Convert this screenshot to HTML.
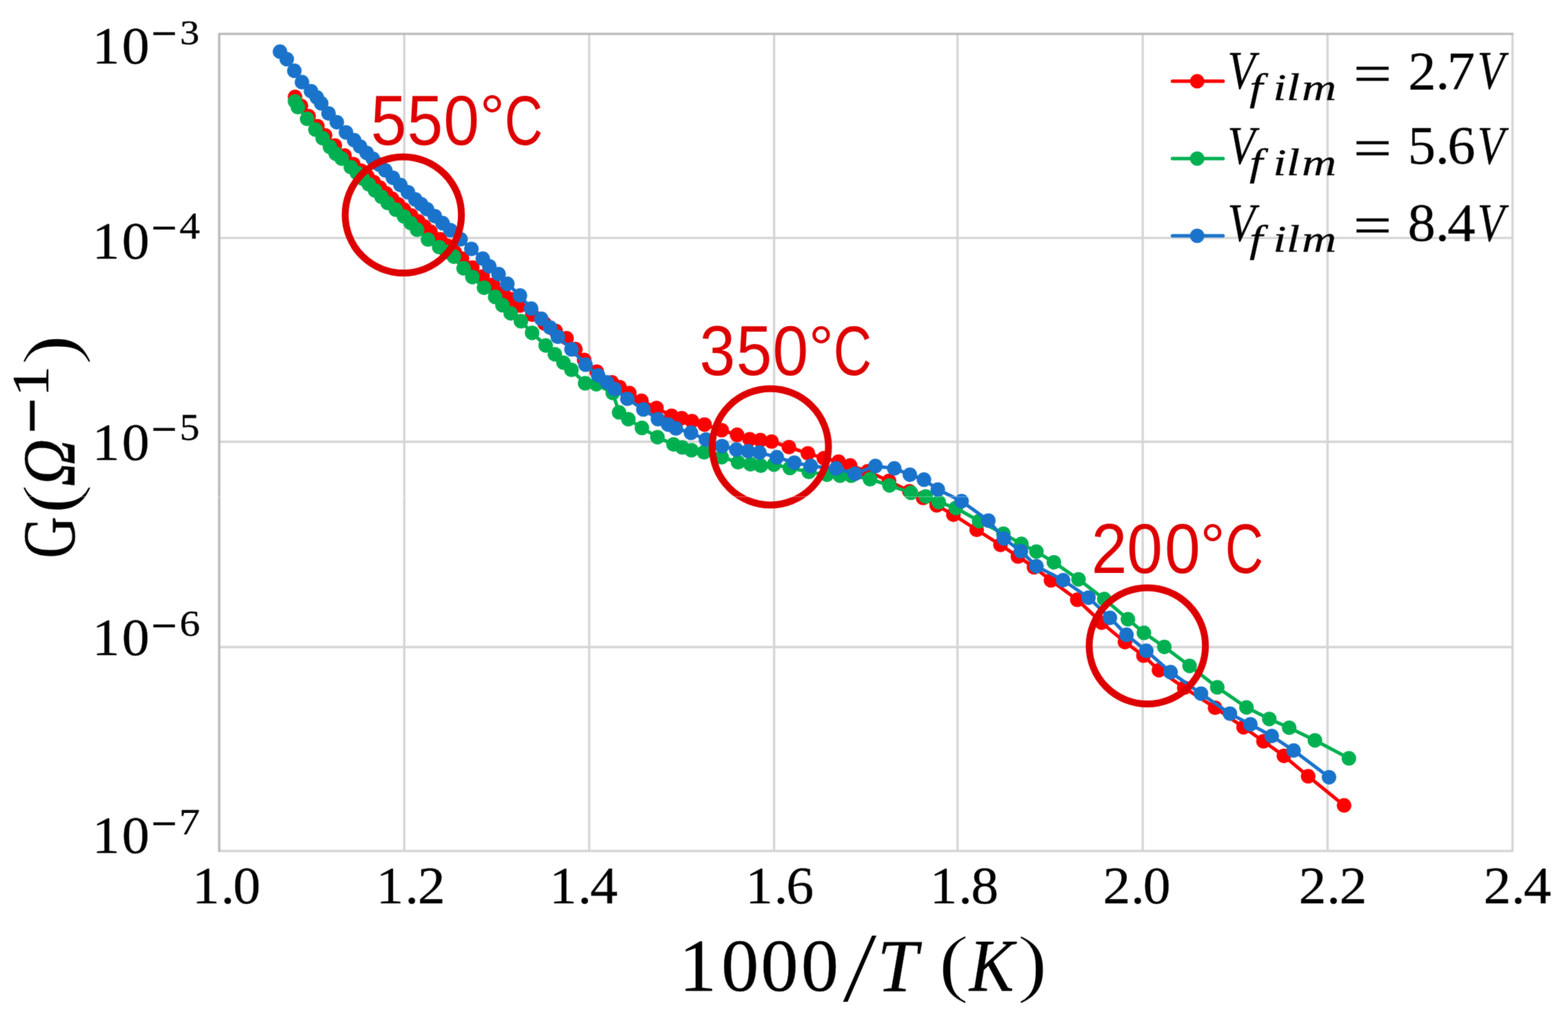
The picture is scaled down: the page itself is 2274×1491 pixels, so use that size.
<!DOCTYPE html>
<html lang="en"><head><meta charset="utf-8"><title>G vs 1000/T</title>
<style>html,body{margin:0;padding:0;background:#fff;}body{width:2274px;height:1491px;overflow:hidden;}svg{display:block;filter:url(#soft);}text{white-space:pre;font-kerning:none;font-variant-ligatures:none;font-size:40px;}.s,.i{stroke:#000;stroke-width:0.3px;vector-effect:non-scaling-stroke;}.p{font-family:'Liberation Serif','DejaVu Serif',serif;stroke:#fff;stroke-width:1.8px;vector-effect:non-scaling-stroke;}.s{font-family:'Liberation Serif','DejaVu Serif',serif;}.i{font-family:'Liberation Serif','DejaVu Serif',serif;font-style:italic;}.a{font-family:'Liberation Sans','DejaVu Sans',sans-serif;fill:#de0000;}</style>
</head><body>
<svg width="2274" height="1491" viewBox="0 0 2274 1491">
<defs><filter id="soft" x="0" y="0" width="2274" height="1491" filterUnits="userSpaceOnUse" color-interpolation-filters="sRGB"><feConvolveMatrix order="3" kernelMatrix="0.0192 0.1001 0.0192 0.1001 0.5228 0.1001 0.0192 0.1001 0.0192" edgeMode="duplicate" preserveAlpha="true"/></filter></defs>
<rect x="0" y="0" width="2274" height="1491" fill="#ffffff"/>
<g stroke="#d6d6d6" stroke-width="3.4" fill="none" stroke-linecap="round">
<line x1="586.30" y1="49.10" x2="586.30" y2="1234.20"/>
<line x1="854.50" y1="49.10" x2="854.50" y2="1234.20"/>
<line x1="1122.70" y1="49.10" x2="1122.70" y2="1234.20"/>
<line x1="1388.70" y1="49.10" x2="1388.70" y2="1234.20"/>
<line x1="1657.20" y1="49.10" x2="1657.20" y2="1234.20"/>
<line x1="1925.30" y1="49.10" x2="1925.30" y2="1234.20"/>
<line x1="2193.50" y1="49.10" x2="2193.50" y2="1234.20"/>
<line x1="317.90" y1="345.10" x2="2193.50" y2="345.10"/>
<line x1="317.90" y1="640.75" x2="2193.50" y2="640.75"/>
<line x1="317.90" y1="938.45" x2="2193.50" y2="938.45"/>
<line x1="317.90" y1="1234.20" x2="2193.50" y2="1234.20"/>
</g>
<polyline fill="none" stroke="#bababa" stroke-width="3.4" stroke-linejoin="round" stroke-linecap="round" points="317.90,1234.20 317.90,49.10 2193.50,49.10"/>
<g>
<polyline fill="none" stroke="#ff0000" stroke-width="5.0" stroke-linejoin="round" stroke-linecap="round" points="427.9,140.7 436.5,153.5 447.6,168.6 460.3,183.0 471.5,196.3 485.6,211.1 499.7,225.5 512.4,238.0 523.7,247.5 532.8,255.8 541.9,264.0 550.9,272.2 560.0,280.5 568.7,288.4 577.3,296.3 586.0,304.2 596.4,312.6 606.7,321.0 615.5,328.6 624.4,336.2 638.5,347.2 649.0,356.5 659.5,365.7 670.0,375.0 685.0,388.0 700.0,401.0 715.0,413.0 730.0,425.0 742.0,434.1 754.1,443.2 772.0,456.4 790.0,469.5 805.9,480.1 821.7,490.6 834.5,506.4 847.2,522.1 865.5,539.0 887.3,554.5 898.6,561.5 912.7,570.0 930.3,581.3 952.1,591.8 973.9,603.1 988.7,606.6 1003.5,610.8 1021.8,615.8 1046.7,624.0 1069.0,630.7 1087.2,637.0 1102.7,638.4 1119.0,640.5 1144.2,648.5 1171.7,657.6 1194.9,664.6 1216.1,669.6 1233.0,675.2 1258.3,683.7 1289.3,697.7 1318.9,712.5 1338.8,722.2 1358.5,733.0 1382.7,746.6 1416.5,768.5 1451.0,790.3 1476.3,807.2 1499.6,822.7 1524.2,841.7 1562.4,869.9 1597.7,903.1 1631.5,931.3 1658.3,951.0 1680.8,972.1 1717.5,997.5 1762.2,1026.5 1803.5,1054.8 1832.4,1075.2 1862.0,1096.3 1897.2,1125.9 1949.3,1168.2"/>
<g fill="#ff0000"><circle cx="427.9" cy="140.7" r="10.6"/><circle cx="436.5" cy="153.5" r="10.6"/><circle cx="447.6" cy="168.6" r="10.6"/><circle cx="460.3" cy="183.0" r="10.6"/><circle cx="471.5" cy="196.3" r="10.6"/><circle cx="485.6" cy="211.1" r="10.6"/><circle cx="499.7" cy="225.5" r="10.6"/><circle cx="512.4" cy="238.0" r="10.6"/><circle cx="523.7" cy="247.5" r="10.6"/><circle cx="532.8" cy="255.8" r="10.6"/><circle cx="541.9" cy="264.0" r="10.6"/><circle cx="550.9" cy="272.2" r="10.6"/><circle cx="560.0" cy="280.5" r="10.6"/><circle cx="568.7" cy="288.4" r="10.6"/><circle cx="577.3" cy="296.3" r="10.6"/><circle cx="586.0" cy="304.2" r="10.6"/><circle cx="596.4" cy="312.6" r="10.6"/><circle cx="606.7" cy="321.0" r="10.6"/><circle cx="615.5" cy="328.6" r="10.6"/><circle cx="624.4" cy="336.2" r="10.6"/><circle cx="638.5" cy="347.2" r="10.6"/><circle cx="649.0" cy="356.5" r="10.6"/><circle cx="659.5" cy="365.7" r="10.6"/><circle cx="670.0" cy="375.0" r="10.6"/><circle cx="685.0" cy="388.0" r="10.6"/><circle cx="700.0" cy="401.0" r="10.6"/><circle cx="715.0" cy="413.0" r="10.6"/><circle cx="730.0" cy="425.0" r="10.6"/><circle cx="742.0" cy="434.1" r="10.6"/><circle cx="754.1" cy="443.2" r="10.6"/><circle cx="772.0" cy="456.4" r="10.6"/><circle cx="790.0" cy="469.5" r="10.6"/><circle cx="805.9" cy="480.1" r="10.6"/><circle cx="821.7" cy="490.6" r="10.6"/><circle cx="834.5" cy="506.4" r="10.6"/><circle cx="847.2" cy="522.1" r="10.6"/><circle cx="865.5" cy="539.0" r="10.6"/><circle cx="887.3" cy="554.5" r="10.6"/><circle cx="898.6" cy="561.5" r="10.6"/><circle cx="912.7" cy="570.0" r="10.6"/><circle cx="930.3" cy="581.3" r="10.6"/><circle cx="952.1" cy="591.8" r="10.6"/><circle cx="973.9" cy="603.1" r="10.6"/><circle cx="988.7" cy="606.6" r="10.6"/><circle cx="1003.5" cy="610.8" r="10.6"/><circle cx="1021.8" cy="615.8" r="10.6"/><circle cx="1046.7" cy="624.0" r="10.6"/><circle cx="1069.0" cy="630.7" r="10.6"/><circle cx="1087.2" cy="637.0" r="10.6"/><circle cx="1102.7" cy="638.4" r="10.6"/><circle cx="1119.0" cy="640.5" r="10.6"/><circle cx="1144.2" cy="648.5" r="10.6"/><circle cx="1171.7" cy="657.6" r="10.6"/><circle cx="1194.9" cy="664.6" r="10.6"/><circle cx="1216.1" cy="669.6" r="10.6"/><circle cx="1233.0" cy="675.2" r="10.6"/><circle cx="1258.3" cy="683.7" r="10.6"/><circle cx="1289.3" cy="697.7" r="10.6"/><circle cx="1318.9" cy="712.5" r="10.6"/><circle cx="1338.8" cy="722.2" r="10.6"/><circle cx="1358.5" cy="733.0" r="10.6"/><circle cx="1382.7" cy="746.6" r="10.6"/><circle cx="1416.5" cy="768.5" r="10.6"/><circle cx="1451.0" cy="790.3" r="10.6"/><circle cx="1476.3" cy="807.2" r="10.6"/><circle cx="1499.6" cy="822.7" r="10.6"/><circle cx="1524.2" cy="841.7" r="10.6"/><circle cx="1562.4" cy="869.9" r="10.6"/><circle cx="1597.7" cy="903.1" r="10.6"/><circle cx="1631.5" cy="931.3" r="10.6"/><circle cx="1658.3" cy="951.0" r="10.6"/><circle cx="1680.8" cy="972.1" r="10.6"/><circle cx="1717.5" cy="997.5" r="10.6"/><circle cx="1762.2" cy="1026.5" r="10.6"/><circle cx="1803.5" cy="1054.8" r="10.6"/><circle cx="1832.4" cy="1075.2" r="10.6"/><circle cx="1862.0" cy="1096.3" r="10.6"/><circle cx="1897.2" cy="1125.9" r="10.6"/><circle cx="1949.3" cy="1168.2" r="10.6"/></g>
</g>
<g>
<polyline fill="none" stroke="#00b050" stroke-width="5.0" stroke-linejoin="round" stroke-linecap="round" points="427.9,147.0 432.1,155.5 445.5,172.4 457.5,187.9 468.0,200.6 478.6,213.2 487.0,223.1 495.5,230.1 508.9,242.5 517.6,250.8 526.3,259.2 535.0,267.5 544.1,276.5 553.3,285.5 562.4,294.5 574.2,304.2 586.0,314.0 595.5,323.6 604.9,333.2 620.8,347.5 637.0,358.5 647.6,365.4 658.3,372.3 672.4,389.2 685.1,401.8 702.0,417.3 718.2,430.7 728.7,442.7 740.7,454.6 755.5,465.9 771.7,482.8 791.4,501.1 804.7,513.8 817.2,526.0 828.8,536.5 848.6,555.9 864.8,557.3 888.7,570.0 897.9,598.2 911.3,608.0 931.0,620.7 953.5,634.1 976.8,644.6 989.4,648.9 1002.8,653.1 1021.1,655.9 1046.7,663.1 1070.4,670.5 1088.3,673.3 1103.4,675.4 1122.4,673.8 1145.6,678.7 1173.1,684.4 1199.2,688.6 1218.2,690.0 1234.4,690.0 1261.8,694.9 1290.0,704.1 1321.2,714.7 1342.6,720.1 1361.5,728.3 1386.2,736.8 1420.0,755.8 1455.2,774.1 1481.3,788.9 1503.1,800.1 1528.5,815.6 1564.2,840.3 1601.5,868.9 1635.8,898.2 1659.0,917.9 1688.6,938.3 1725.2,965.8 1765.4,996.9 1807.7,1026.1 1840.8,1042.8 1869.7,1055.5 1907.0,1073.8 1956.3,1099.9"/>
<g fill="#00b050"><circle cx="427.9" cy="147.0" r="10.6"/><circle cx="432.1" cy="155.5" r="10.6"/><circle cx="445.5" cy="172.4" r="10.6"/><circle cx="457.5" cy="187.9" r="10.6"/><circle cx="468.0" cy="200.6" r="10.6"/><circle cx="478.6" cy="213.2" r="10.6"/><circle cx="487.0" cy="223.1" r="10.6"/><circle cx="495.5" cy="230.1" r="10.6"/><circle cx="508.9" cy="242.5" r="10.6"/><circle cx="517.6" cy="250.8" r="10.6"/><circle cx="526.3" cy="259.2" r="10.6"/><circle cx="535.0" cy="267.5" r="10.6"/><circle cx="544.1" cy="276.5" r="10.6"/><circle cx="553.3" cy="285.5" r="10.6"/><circle cx="562.4" cy="294.5" r="10.6"/><circle cx="574.2" cy="304.2" r="10.6"/><circle cx="586.0" cy="314.0" r="10.6"/><circle cx="595.5" cy="323.6" r="10.6"/><circle cx="604.9" cy="333.2" r="10.6"/><circle cx="620.8" cy="347.5" r="10.6"/><circle cx="637.0" cy="358.5" r="10.6"/><circle cx="647.6" cy="365.4" r="10.6"/><circle cx="658.3" cy="372.3" r="10.6"/><circle cx="672.4" cy="389.2" r="10.6"/><circle cx="685.1" cy="401.8" r="10.6"/><circle cx="702.0" cy="417.3" r="10.6"/><circle cx="718.2" cy="430.7" r="10.6"/><circle cx="728.7" cy="442.7" r="10.6"/><circle cx="740.7" cy="454.6" r="10.6"/><circle cx="755.5" cy="465.9" r="10.6"/><circle cx="771.7" cy="482.8" r="10.6"/><circle cx="791.4" cy="501.1" r="10.6"/><circle cx="804.7" cy="513.8" r="10.6"/><circle cx="817.2" cy="526.0" r="10.6"/><circle cx="828.8" cy="536.5" r="10.6"/><circle cx="848.6" cy="555.9" r="10.6"/><circle cx="864.8" cy="557.3" r="10.6"/><circle cx="888.7" cy="570.0" r="10.6"/><circle cx="897.9" cy="598.2" r="10.6"/><circle cx="911.3" cy="608.0" r="10.6"/><circle cx="931.0" cy="620.7" r="10.6"/><circle cx="953.5" cy="634.1" r="10.6"/><circle cx="976.8" cy="644.6" r="10.6"/><circle cx="989.4" cy="648.9" r="10.6"/><circle cx="1002.8" cy="653.1" r="10.6"/><circle cx="1021.1" cy="655.9" r="10.6"/><circle cx="1046.7" cy="663.1" r="10.6"/><circle cx="1070.4" cy="670.5" r="10.6"/><circle cx="1088.3" cy="673.3" r="10.6"/><circle cx="1103.4" cy="675.4" r="10.6"/><circle cx="1122.4" cy="673.8" r="10.6"/><circle cx="1145.6" cy="678.7" r="10.6"/><circle cx="1173.1" cy="684.4" r="10.6"/><circle cx="1199.2" cy="688.6" r="10.6"/><circle cx="1218.2" cy="690.0" r="10.6"/><circle cx="1234.4" cy="690.0" r="10.6"/><circle cx="1261.8" cy="694.9" r="10.6"/><circle cx="1290.0" cy="704.1" r="10.6"/><circle cx="1321.2" cy="714.7" r="10.6"/><circle cx="1342.6" cy="720.1" r="10.6"/><circle cx="1361.5" cy="728.3" r="10.6"/><circle cx="1386.2" cy="736.8" r="10.6"/><circle cx="1420.0" cy="755.8" r="10.6"/><circle cx="1455.2" cy="774.1" r="10.6"/><circle cx="1481.3" cy="788.9" r="10.6"/><circle cx="1503.1" cy="800.1" r="10.6"/><circle cx="1528.5" cy="815.6" r="10.6"/><circle cx="1564.2" cy="840.3" r="10.6"/><circle cx="1601.5" cy="868.9" r="10.6"/><circle cx="1635.8" cy="898.2" r="10.6"/><circle cx="1659.0" cy="917.9" r="10.6"/><circle cx="1688.6" cy="938.3" r="10.6"/><circle cx="1725.2" cy="965.8" r="10.6"/><circle cx="1765.4" cy="996.9" r="10.6"/><circle cx="1807.7" cy="1026.1" r="10.6"/><circle cx="1840.8" cy="1042.8" r="10.6"/><circle cx="1869.7" cy="1055.5" r="10.6"/><circle cx="1907.0" cy="1073.8" r="10.6"/><circle cx="1956.3" cy="1099.9" r="10.6"/></g>
</g>
<g>
<polyline fill="none" stroke="#1a73cb" stroke-width="5.0" stroke-linejoin="round" stroke-linecap="round" points="406.1,74.9 415.9,85.8 426.9,102.7 438.0,119.2 451.1,132.3 459.6,141.4 465.9,149.9 476.5,164.6 488.5,177.3 501.8,192.1 513.8,203.4 522.3,212.5 531.8,221.8 540.8,230.3 549.9,238.7 558.9,247.2 569.8,257.8 580.7,268.3 591.6,278.8 602.5,289.4 611.0,296.4 619.4,303.5 630.7,313.6 641.9,323.7 653.2,333.8 668.0,347.0 683.7,361.0 700.2,375.2 709.7,386.3 723.1,397.6 735.8,411.7 754.1,428.6 770.3,447.6 785.1,462.4 797.7,475.1 809.0,488.5 828.8,506.7 849.2,528.9 867.6,544.6 880.3,554.5 891.5,564.4 909.9,578.5 933.1,593.9 954.2,608.0 969.0,615.8 980.3,621.4 1002.1,627.7 1023.9,637.6 1047.2,647.0 1067.9,652.2 1084.8,654.3 1101.4,656.4 1126.6,663.2 1152.0,671.0 1175.9,675.9 1212.5,679.4 1240.0,687.2 1269.6,675.9 1297.0,679.4 1319.6,688.6 1340.0,695.7 1360.1,710.0 1394.6,726.9 1433.4,755.1 1455.9,781.1 1480.6,799.4 1503.1,821.3 1541.8,841.5 1578.6,866.8 1609.7,896.1 1633.7,920.7 1662.5,943.9 1697.7,974.9 1741.8,1006.0 1783.8,1035.1 1813.4,1050.6 1844.4,1067.5 1876.1,1088.6 1927.5,1127.3"/>
<g fill="#1a73cb"><circle cx="406.1" cy="74.9" r="10.6"/><circle cx="415.9" cy="85.8" r="10.6"/><circle cx="426.9" cy="102.7" r="10.6"/><circle cx="438.0" cy="119.2" r="10.6"/><circle cx="451.1" cy="132.3" r="10.6"/><circle cx="459.6" cy="141.4" r="10.6"/><circle cx="465.9" cy="149.9" r="10.6"/><circle cx="476.5" cy="164.6" r="10.6"/><circle cx="488.5" cy="177.3" r="10.6"/><circle cx="501.8" cy="192.1" r="10.6"/><circle cx="513.8" cy="203.4" r="10.6"/><circle cx="522.3" cy="212.5" r="10.6"/><circle cx="531.8" cy="221.8" r="10.6"/><circle cx="540.8" cy="230.3" r="10.6"/><circle cx="549.9" cy="238.7" r="10.6"/><circle cx="558.9" cy="247.2" r="10.6"/><circle cx="569.8" cy="257.8" r="10.6"/><circle cx="580.7" cy="268.3" r="10.6"/><circle cx="591.6" cy="278.8" r="10.6"/><circle cx="602.5" cy="289.4" r="10.6"/><circle cx="611.0" cy="296.4" r="10.6"/><circle cx="619.4" cy="303.5" r="10.6"/><circle cx="630.7" cy="313.6" r="10.6"/><circle cx="641.9" cy="323.7" r="10.6"/><circle cx="653.2" cy="333.8" r="10.6"/><circle cx="668.0" cy="347.0" r="10.6"/><circle cx="683.7" cy="361.0" r="10.6"/><circle cx="700.2" cy="375.2" r="10.6"/><circle cx="709.7" cy="386.3" r="10.6"/><circle cx="723.1" cy="397.6" r="10.6"/><circle cx="735.8" cy="411.7" r="10.6"/><circle cx="754.1" cy="428.6" r="10.6"/><circle cx="770.3" cy="447.6" r="10.6"/><circle cx="785.1" cy="462.4" r="10.6"/><circle cx="797.7" cy="475.1" r="10.6"/><circle cx="809.0" cy="488.5" r="10.6"/><circle cx="828.8" cy="506.7" r="10.6"/><circle cx="849.2" cy="528.9" r="10.6"/><circle cx="867.6" cy="544.6" r="10.6"/><circle cx="880.3" cy="554.5" r="10.6"/><circle cx="891.5" cy="564.4" r="10.6"/><circle cx="909.9" cy="578.5" r="10.6"/><circle cx="933.1" cy="593.9" r="10.6"/><circle cx="954.2" cy="608.0" r="10.6"/><circle cx="969.0" cy="615.8" r="10.6"/><circle cx="980.3" cy="621.4" r="10.6"/><circle cx="1002.1" cy="627.7" r="10.6"/><circle cx="1023.9" cy="637.6" r="10.6"/><circle cx="1047.2" cy="647.0" r="10.6"/><circle cx="1067.9" cy="652.2" r="10.6"/><circle cx="1084.8" cy="654.3" r="10.6"/><circle cx="1101.4" cy="656.4" r="10.6"/><circle cx="1126.6" cy="663.2" r="10.6"/><circle cx="1152.0" cy="671.0" r="10.6"/><circle cx="1175.9" cy="675.9" r="10.6"/><circle cx="1212.5" cy="679.4" r="10.6"/><circle cx="1240.0" cy="687.2" r="10.6"/><circle cx="1269.6" cy="675.9" r="10.6"/><circle cx="1297.0" cy="679.4" r="10.6"/><circle cx="1319.6" cy="688.6" r="10.6"/><circle cx="1340.0" cy="695.7" r="10.6"/><circle cx="1360.1" cy="710.0" r="10.6"/><circle cx="1394.6" cy="726.9" r="10.6"/><circle cx="1433.4" cy="755.1" r="10.6"/><circle cx="1455.9" cy="781.1" r="10.6"/><circle cx="1480.6" cy="799.4" r="10.6"/><circle cx="1503.1" cy="821.3" r="10.6"/><circle cx="1541.8" cy="841.5" r="10.6"/><circle cx="1578.6" cy="866.8" r="10.6"/><circle cx="1609.7" cy="896.1" r="10.6"/><circle cx="1633.7" cy="920.7" r="10.6"/><circle cx="1662.5" cy="943.9" r="10.6"/><circle cx="1697.7" cy="974.9" r="10.6"/><circle cx="1741.8" cy="1006.0" r="10.6"/><circle cx="1783.8" cy="1035.1" r="10.6"/><circle cx="1813.4" cy="1050.6" r="10.6"/><circle cx="1844.4" cy="1067.5" r="10.6"/><circle cx="1876.1" cy="1088.6" r="10.6"/><circle cx="1927.5" cy="1127.3" r="10.6"/></g>
</g>
<text><tspan class="s" x="133.69" y="91.63" font-size="77.04" textLength="40.06" lengthAdjust="spacingAndGlyphs">1</tspan><tspan class="s" x="176.85" y="91.63" font-size="77.04" textLength="40.06" lengthAdjust="spacingAndGlyphs">0</tspan><tspan class="s" x="219.27" y="74.37" font-size="76.00" textLength="37.60" lengthAdjust="spacingAndGlyphs">−</tspan><tspan class="s" x="261.12" y="63.68" font-size="51.60" textLength="28.24" lengthAdjust="spacingAndGlyphs">3</tspan></text>
<text><tspan class="s" x="133.69" y="374.63" font-size="77.04" textLength="40.06" lengthAdjust="spacingAndGlyphs">1</tspan><tspan class="s" x="176.85" y="374.63" font-size="77.04" textLength="40.06" lengthAdjust="spacingAndGlyphs">0</tspan><tspan class="s" x="219.27" y="356.27" font-size="76.00" textLength="37.60" lengthAdjust="spacingAndGlyphs">−</tspan><tspan class="s" x="260.21" y="346.10" font-size="54.14" textLength="29.78" lengthAdjust="spacingAndGlyphs">4</tspan></text>
<text><tspan class="s" x="133.69" y="666.63" font-size="77.04" textLength="40.06" lengthAdjust="spacingAndGlyphs">1</tspan><tspan class="s" x="176.85" y="666.63" font-size="77.04" textLength="40.06" lengthAdjust="spacingAndGlyphs">0</tspan><tspan class="s" x="219.27" y="648.27" font-size="76.00" textLength="37.60" lengthAdjust="spacingAndGlyphs">−</tspan><tspan class="s" x="260.47" y="637.55" font-size="55.04" textLength="28.94" lengthAdjust="spacingAndGlyphs">5</tspan></text>
<text><tspan class="s" x="133.69" y="950.43" font-size="77.04" textLength="40.06" lengthAdjust="spacingAndGlyphs">1</tspan><tspan class="s" x="176.85" y="950.43" font-size="77.04" textLength="40.06" lengthAdjust="spacingAndGlyphs">0</tspan><tspan class="s" x="219.27" y="933.07" font-size="76.00" textLength="37.60" lengthAdjust="spacingAndGlyphs">−</tspan><tspan class="s" x="260.48" y="921.98" font-size="52.04" textLength="29.59" lengthAdjust="spacingAndGlyphs">6</tspan></text>
<text><tspan class="s" x="133.69" y="1237.43" font-size="77.04" textLength="40.06" lengthAdjust="spacingAndGlyphs">1</tspan><tspan class="s" x="176.85" y="1237.43" font-size="77.04" textLength="40.06" lengthAdjust="spacingAndGlyphs">0</tspan><tspan class="s" x="219.27" y="1220.37" font-size="76.00" textLength="37.60" lengthAdjust="spacingAndGlyphs">−</tspan><tspan class="s" x="259.87" y="1210.30" font-size="53.13" textLength="30.25" lengthAdjust="spacingAndGlyphs">7</tspan></text>
<text><tspan class="s" x="278.71" y="1309.68" font-size="76.81" textLength="39.94" lengthAdjust="spacingAndGlyphs">1</tspan><tspan class="s" x="320.21" y="1309.68" font-size="76.81" textLength="19.97" lengthAdjust="spacingAndGlyphs">.</tspan><tspan class="s" x="337.95" y="1309.68" font-size="76.81" textLength="39.94" lengthAdjust="spacingAndGlyphs">0</tspan></text>
<text><tspan class="s" x="545.61" y="1309.68" font-size="76.81" textLength="39.94" lengthAdjust="spacingAndGlyphs">1</tspan><tspan class="s" x="587.31" y="1309.68" font-size="76.81" textLength="19.97" lengthAdjust="spacingAndGlyphs">.</tspan><tspan class="s" x="605.75" y="1309.68" font-size="76.81" textLength="39.94" lengthAdjust="spacingAndGlyphs">2</tspan></text>
<text><tspan class="s" x="796.71" y="1309.68" font-size="76.81" textLength="39.94" lengthAdjust="spacingAndGlyphs">1</tspan><tspan class="s" x="838.11" y="1309.68" font-size="76.81" textLength="19.97" lengthAdjust="spacingAndGlyphs">.</tspan><tspan class="s" x="856.05" y="1309.68" font-size="76.81" textLength="39.94" lengthAdjust="spacingAndGlyphs">4</tspan></text>
<text><tspan class="s" x="1080.91" y="1309.68" font-size="76.81" textLength="39.94" lengthAdjust="spacingAndGlyphs">1</tspan><tspan class="s" x="1122.41" y="1309.68" font-size="76.81" textLength="19.97" lengthAdjust="spacingAndGlyphs">.</tspan><tspan class="s" x="1140.35" y="1309.68" font-size="76.81" textLength="39.94" lengthAdjust="spacingAndGlyphs">6</tspan></text>
<text><tspan class="s" x="1348.51" y="1309.68" font-size="76.81" textLength="39.94" lengthAdjust="spacingAndGlyphs">1</tspan><tspan class="s" x="1390.01" y="1309.68" font-size="76.81" textLength="19.97" lengthAdjust="spacingAndGlyphs">.</tspan><tspan class="s" x="1408.35" y="1309.68" font-size="76.81" textLength="39.94" lengthAdjust="spacingAndGlyphs">8</tspan></text>
<text><tspan class="s" x="1599.61" y="1309.68" font-size="76.81" textLength="39.94" lengthAdjust="spacingAndGlyphs">2</tspan><tspan class="s" x="1639.91" y="1309.68" font-size="76.81" textLength="19.97" lengthAdjust="spacingAndGlyphs">.</tspan><tspan class="s" x="1657.65" y="1309.68" font-size="76.81" textLength="39.94" lengthAdjust="spacingAndGlyphs">0</tspan></text>
<text><tspan class="s" x="1883.41" y="1309.68" font-size="76.81" textLength="39.94" lengthAdjust="spacingAndGlyphs">2</tspan><tspan class="s" x="1924.11" y="1309.68" font-size="76.81" textLength="19.97" lengthAdjust="spacingAndGlyphs">.</tspan><tspan class="s" x="1942.45" y="1309.68" font-size="76.81" textLength="39.94" lengthAdjust="spacingAndGlyphs">2</tspan></text>
<text><tspan class="s" x="2151.41" y="1309.68" font-size="76.81" textLength="39.94" lengthAdjust="spacingAndGlyphs">2</tspan><tspan class="s" x="2191.71" y="1309.68" font-size="76.81" textLength="19.97" lengthAdjust="spacingAndGlyphs">.</tspan><tspan class="s" x="2209.65" y="1309.68" font-size="76.81" textLength="39.94" lengthAdjust="spacingAndGlyphs">4</tspan></text>
<text><tspan class="s" x="984.67" y="1436.81" font-size="108.89" textLength="54.44" lengthAdjust="spacingAndGlyphs">1</tspan><tspan class="s" x="1046.12" y="1436.81" font-size="108.89" textLength="54.44" lengthAdjust="spacingAndGlyphs">0</tspan><tspan class="s" x="1103.32" y="1436.81" font-size="108.89" textLength="54.44" lengthAdjust="spacingAndGlyphs">0</tspan><tspan class="s" x="1161.74" y="1436.81" font-size="108.89" textLength="54.44" lengthAdjust="spacingAndGlyphs">0</tspan><tspan class="p" x="1221.10" y="1453.34" font-size="145.52" textLength="51.77" lengthAdjust="spacingAndGlyphs">/</tspan><tspan class="i" x="1272.35" y="1436.70" font-size="108.09" textLength="58.65" lengthAdjust="spacingAndGlyphs">T</tspan><tspan class="s" font-size="40"> </tspan><tspan class="p" x="1360.66" y="1432.65" font-size="109.86" textLength="44.66" lengthAdjust="spacingAndGlyphs">(</tspan><tspan class="i" x="1405.71" y="1436.70" font-size="108.09" textLength="64.81" lengthAdjust="spacingAndGlyphs">K</tspan><tspan class="p" x="1475.06" y="1432.65" font-size="109.86" textLength="44.49" lengthAdjust="spacingAndGlyphs">)</tspan></text>
<text transform="translate(108.3,808) rotate(-90)"><tspan class="s" x="-1.97" y="0.11" font-size="108.85" textLength="60.89" lengthAdjust="spacingAndGlyphs">G</tspan><tspan class="p" x="61.94" y="0.48" font-size="109.75" textLength="44.14" lengthAdjust="spacingAndGlyphs">(</tspan><tspan class="i" x="102.14" y="0.00" font-size="108.68" textLength="69.38" lengthAdjust="spacingAndGlyphs">Ω</tspan><tspan class="s" x="178.73" y="-18.13" font-size="130.00" textLength="52.64" lengthAdjust="spacingAndGlyphs">−</tspan><tspan class="s" x="232.01" y="-38.30" font-size="75.61" textLength="45.67" lengthAdjust="spacingAndGlyphs">1</tspan><tspan class="p" x="278.08" y="0.48" font-size="109.75" textLength="45.26" lengthAdjust="spacingAndGlyphs">)</tspan></text>
<line x1="1700.3" y1="117.8" x2="1773.8" y2="117.8" stroke="#ff0000" stroke-width="5" stroke-linecap="round"/>
<circle cx="1736.2" cy="117.8" r="10.5" fill="#ff0000"/>
<text><tspan class="i" x="1780.37" y="128.43" font-size="78.21" textLength="39.92" lengthAdjust="spacingAndGlyphs">V</tspan><tspan class="i" x="1812.03" y="145.04" font-size="54.39" textLength="19.29" lengthAdjust="spacingAndGlyphs">f</tspan><tspan class="i" x="1846.18" y="145.04" font-size="54.39" textLength="19.29" lengthAdjust="spacingAndGlyphs">i</tspan><tspan class="i" x="1865.86" y="145.04" font-size="54.39" textLength="19.29" lengthAdjust="spacingAndGlyphs">l</tspan><tspan class="i" x="1888.10" y="145.04" font-size="54.39" textLength="50.13" lengthAdjust="spacingAndGlyphs">m</tspan><tspan class="s" font-size="40"> </tspan><tspan class="s" x="1962.42" y="133.85" font-size="81.20" textLength="56.16" lengthAdjust="spacingAndGlyphs">=</tspan><tspan class="s" font-size="40"> </tspan><tspan class="s" x="2042.17" y="128.77" font-size="77.56" textLength="40.33" lengthAdjust="spacingAndGlyphs">2</tspan><tspan class="s" x="2082.26" y="128.77" font-size="77.56" textLength="20.16" lengthAdjust="spacingAndGlyphs">.</tspan><tspan class="s" x="2098.79" y="128.77" font-size="77.56" textLength="40.33" lengthAdjust="spacingAndGlyphs">7</tspan><tspan class="i" x="2142.41" y="128.43" font-size="78.21" textLength="39.45" lengthAdjust="spacingAndGlyphs">V</tspan></text>
<line x1="1700.3" y1="230.0" x2="1773.8" y2="230.0" stroke="#00b050" stroke-width="5" stroke-linecap="round"/>
<circle cx="1736.2" cy="230.0" r="10.5" fill="#00b050"/>
<text><tspan class="i" x="1780.37" y="237.03" font-size="78.21" textLength="39.92" lengthAdjust="spacingAndGlyphs">V</tspan><tspan class="i" x="1812.03" y="253.64" font-size="54.39" textLength="19.29" lengthAdjust="spacingAndGlyphs">f</tspan><tspan class="i" x="1846.18" y="253.64" font-size="54.39" textLength="19.29" lengthAdjust="spacingAndGlyphs">i</tspan><tspan class="i" x="1865.86" y="253.64" font-size="54.39" textLength="19.29" lengthAdjust="spacingAndGlyphs">l</tspan><tspan class="i" x="1888.10" y="253.64" font-size="54.39" textLength="50.13" lengthAdjust="spacingAndGlyphs">m</tspan><tspan class="s" font-size="40"> </tspan><tspan class="s" x="1962.42" y="242.45" font-size="81.20" textLength="56.16" lengthAdjust="spacingAndGlyphs">=</tspan><tspan class="s" font-size="40"> </tspan><tspan class="s" x="2041.66" y="237.37" font-size="77.56" textLength="40.33" lengthAdjust="spacingAndGlyphs">5</tspan><tspan class="s" x="2081.66" y="237.37" font-size="77.56" textLength="20.16" lengthAdjust="spacingAndGlyphs">.</tspan><tspan class="s" x="2099.29" y="237.37" font-size="77.56" textLength="40.33" lengthAdjust="spacingAndGlyphs">6</tspan><tspan class="i" x="2142.41" y="237.03" font-size="78.21" textLength="39.45" lengthAdjust="spacingAndGlyphs">V</tspan></text>
<line x1="1700.3" y1="342.0" x2="1773.8" y2="342.0" stroke="#1a73cb" stroke-width="5" stroke-linecap="round"/>
<circle cx="1736.2" cy="342.0" r="10.5" fill="#1a73cb"/>
<text><tspan class="i" x="1780.37" y="348.53" font-size="78.21" textLength="39.92" lengthAdjust="spacingAndGlyphs">V</tspan><tspan class="i" x="1812.03" y="365.14" font-size="54.39" textLength="19.29" lengthAdjust="spacingAndGlyphs">f</tspan><tspan class="i" x="1846.18" y="365.14" font-size="54.39" textLength="19.29" lengthAdjust="spacingAndGlyphs">i</tspan><tspan class="i" x="1865.86" y="365.14" font-size="54.39" textLength="19.29" lengthAdjust="spacingAndGlyphs">l</tspan><tspan class="i" x="1888.10" y="365.14" font-size="54.39" textLength="50.13" lengthAdjust="spacingAndGlyphs">m</tspan><tspan class="s" font-size="40"> </tspan><tspan class="s" x="1962.42" y="353.95" font-size="81.20" textLength="56.16" lengthAdjust="spacingAndGlyphs">=</tspan><tspan class="s" font-size="40"> </tspan><tspan class="s" x="2041.58" y="348.87" font-size="77.56" textLength="40.33" lengthAdjust="spacingAndGlyphs">8</tspan><tspan class="s" x="2081.66" y="348.87" font-size="77.56" textLength="20.16" lengthAdjust="spacingAndGlyphs">.</tspan><tspan class="s" x="2099.28" y="348.87" font-size="77.56" textLength="40.33" lengthAdjust="spacingAndGlyphs">4</tspan><tspan class="i" x="2142.41" y="348.53" font-size="78.21" textLength="39.45" lengthAdjust="spacingAndGlyphs">V</tspan></text>
<circle cx="584.9" cy="311.7" r="84.3" fill="none" stroke="#de0000" stroke-width="10"/>
<circle cx="1117.2" cy="648.1" r="84.3" fill="none" stroke="#de0000" stroke-width="10"/>
<circle cx="1663.9" cy="936.8" r="84.3" fill="none" stroke="#de0000" stroke-width="10"/>
<text><tspan class="a" x="537.78" y="209.59" font-size="101.48" textLength="51.76" lengthAdjust="spacingAndGlyphs">5</tspan><tspan class="a" x="590.58" y="209.59" font-size="101.48" textLength="51.76" lengthAdjust="spacingAndGlyphs">5</tspan><tspan class="a" x="643.24" y="209.59" font-size="101.48" textLength="51.76" lengthAdjust="spacingAndGlyphs">0</tspan><tspan class="a" x="695.76" y="200.18" font-size="89.01" textLength="36.28" lengthAdjust="spacingAndGlyphs">°</tspan><tspan class="a" x="731.86" y="209.59" font-size="101.48" textLength="55.49" lengthAdjust="spacingAndGlyphs">C</tspan></text>
<text><tspan class="a" x="1014.51" y="544.49" font-size="101.48" textLength="51.76" lengthAdjust="spacingAndGlyphs">3</tspan><tspan class="a" x="1067.78" y="544.49" font-size="101.48" textLength="51.76" lengthAdjust="spacingAndGlyphs">5</tspan><tspan class="a" x="1120.44" y="544.49" font-size="101.48" textLength="51.76" lengthAdjust="spacingAndGlyphs">0</tspan><tspan class="a" x="1172.66" y="535.08" font-size="89.01" textLength="36.28" lengthAdjust="spacingAndGlyphs">°</tspan><tspan class="a" x="1208.76" y="544.49" font-size="101.48" textLength="55.49" lengthAdjust="spacingAndGlyphs">C</tspan></text>
<text><tspan class="a" x="1582.65" y="830.99" font-size="101.48" textLength="51.76" lengthAdjust="spacingAndGlyphs">2</tspan><tspan class="a" x="1634.28" y="830.99" font-size="101.48" textLength="51.76" lengthAdjust="spacingAndGlyphs">0</tspan><tspan class="a" x="1689.04" y="830.99" font-size="101.48" textLength="51.76" lengthAdjust="spacingAndGlyphs">0</tspan><tspan class="a" x="1740.56" y="821.58" font-size="89.01" textLength="36.28" lengthAdjust="spacingAndGlyphs">°</tspan><tspan class="a" x="1776.66" y="830.99" font-size="101.48" textLength="55.49" lengthAdjust="spacingAndGlyphs">C</tspan></text>
<line x1="0" y1="720.6" x2="1403" y2="720.6" stroke="#ffffff" stroke-opacity="0.45" stroke-width="0.9"/>
</svg>
</body></html>
